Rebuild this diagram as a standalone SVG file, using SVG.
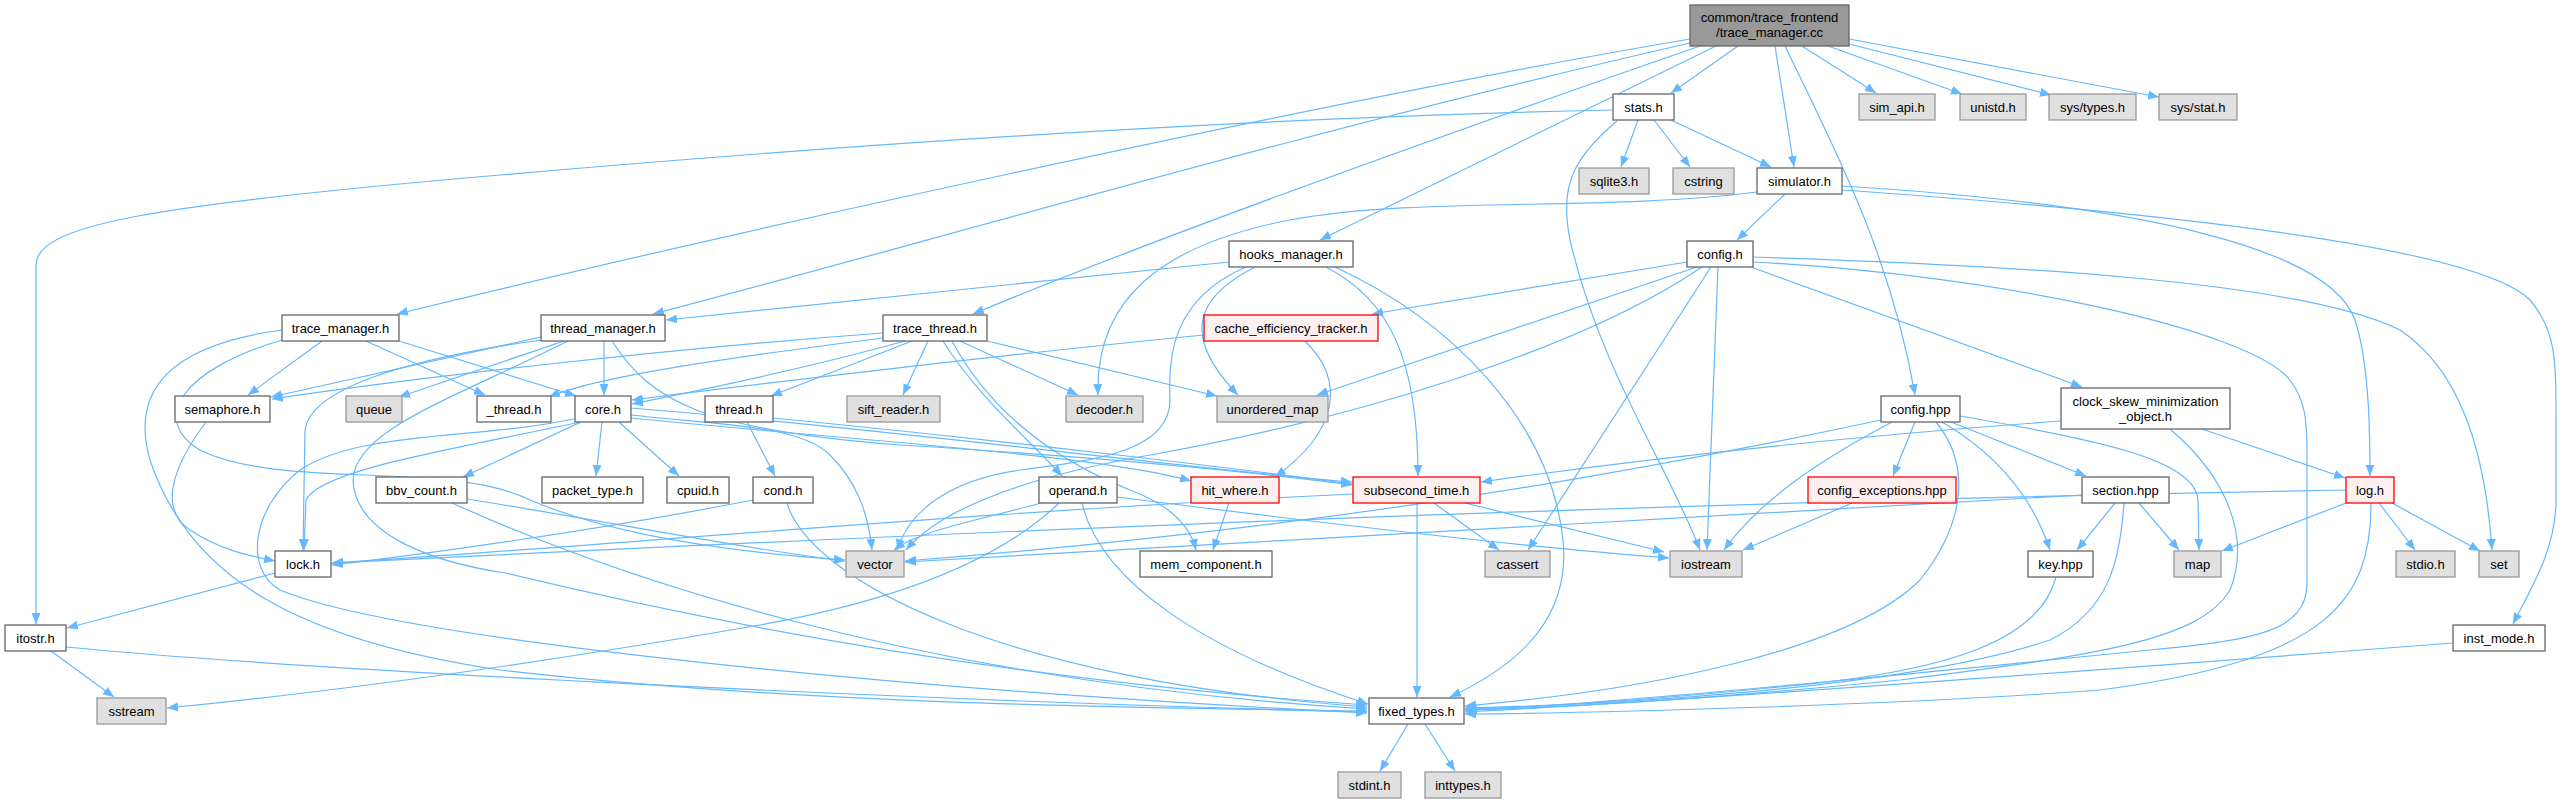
<svg xmlns="http://www.w3.org/2000/svg" width="2562" height="803" viewBox="0 0 2562 803">
<style>
.n rect{fill:#ffffff;stroke:#666666;stroke-width:1.3}
.x rect{fill:#e0e0e0;stroke:#999999;stroke-width:1.3}
.r rect{fill:#fff0f0;stroke:#ff0000;stroke-width:1.3}
.m rect{fill:#999999;stroke:#666666;stroke-width:1.3}
text{font-family:"Liberation Sans",Arial,sans-serif;font-size:13px;fill:#000000;text-anchor:middle}
#edges path{fill:none;stroke:#63b8ff;stroke-width:1.2;marker-end:url(#ah)}
</style>
<defs>
<marker id="ah" markerUnits="userSpaceOnUse" markerWidth="12" markerHeight="10" refX="11" refY="4.5" orient="auto"><path d="M0,0 L11,4.5 L0,9 z" fill="#63b8ff" stroke="none"/></marker>
</defs>
<rect width="2562" height="803" fill="#ffffff"/>
<g id="edges">
<path d="M1690,39 C1300,105 700,240 397,314"/>
<path d="M1690,43 C1300,132 900,250 653,314"/>
<path d="M1700,46 C1400,150 1150,240 973,314"/>
<path d="M1716,46 L1320,240"/>
<path d="M1738,46 L1671,93"/>
<path d="M1775,46 L1794,167"/>
<path d="M1785,46 C1830,140 1890,250 1915,395"/>
<path d="M1802,46 L1876,93"/>
<path d="M1828,46 L1962,94"/>
<path d="M1849,44 L2051,95"/>
<path d="M1849,39 L2159,97"/>
<path d="M1613,110 C1300,116 900,140 500,175 C150,205 36,225 36,265 L36,624"/>
<path d="M1638,120 L1621,167"/>
<path d="M1654,120 L1690,167"/>
<path d="M1671,120 L1771,167"/>
<path d="M1617,121 C1570,160 1560,190 1570,240 C1600,370 1670,470 1700,550"/>
<path d="M1785,194 L1737,240"/>
<path d="M1757,192 C1600,212 1420,196 1290,220 C1160,245 1095,300 1098,395"/>
<path d="M1842,186 C2150,205 2330,250 2355,320 C2368,360 2370,420 2370,476"/>
<path d="M1842,190 C2200,215 2480,250 2530,300 C2556,330 2556,360 2556,420 L2556,500 C2556,550 2530,590 2513,624"/>
<path d="M1229,262 L666,320"/>
<path d="M1255,267 C1190,300 1185,340 1238,395"/>
<path d="M1246,267 C1170,300 1168,360 1170,400 C1170,450 1100,460 1020,470 C950,480 910,510 897,550"/>
<path d="M1326,267 C1390,300 1418,360 1418,476"/>
<path d="M1335,267 C1450,320 1550,420 1563,540 C1570,610 1530,660 1450,697"/>
<path d="M1687,262 L1372,314"/>
<path d="M1697,267 L1317,395"/>
<path d="M1702,267 C1580,350 1350,420 1150,455 C1020,478 940,510 906,550"/>
<path d="M1711,267 L1528,550"/>
<path d="M1718,267 L1707,550"/>
<path d="M1751,267 L2082,387"/>
<path d="M1753,262 C2000,275 2250,330 2290,380 C2305,400 2307,420 2307,450 L2307,585 C2305,630 2260,640 2150,650 C1900,675 1600,705 1466,710"/>
<path d="M1753,257 C2000,265 2300,280 2400,330 C2460,370 2485,450 2492,550"/>
<path d="M322,341 L248,395"/>
<path d="M366,341 L485,395"/>
<path d="M399,341 L576,396"/>
<path d="M282,330 C170,345 130,390 150,460 C190,580 300,640 500,670 C800,705 1150,708 1367,711"/>
<path d="M282,340 C180,370 150,420 200,450 C280,490 450,460 530,500 C600,530 700,550 845,560"/>
<path d="M541,337 L271,397"/>
<path d="M564,341 L399,397"/>
<path d="M604,341 L604,395"/>
<path d="M541,340 C400,360 310,390 305,430 L303,550"/>
<path d="M568,341 C450,400 355,430 353,480 C355,530 420,560 505,573 C700,620 1000,680 1367,705"/>
<path d="M612,341 C650,400 700,430 900,445 C1150,460 1300,478 1352,485"/>
<path d="M883,333 C650,350 400,380 272,399"/>
<path d="M883,338 C750,355 600,375 549,397"/>
<path d="M905,341 C800,370 700,390 632,404"/>
<path d="M912,341 L771,396"/>
<path d="M928,341 L903,395"/>
<path d="M960,341 L1078,395"/>
<path d="M987,341 L1217,396"/>
<path d="M943,341 C980,400 1030,440 1062,476"/>
<path d="M952,341 C1000,430 1080,470 1130,490 C1170,505 1190,525 1196,550"/>
<path d="M581,422 L463,477"/>
<path d="M602,422 L596,476"/>
<path d="M619,422 L679,476"/>
<path d="M580,422 C450,450 320,470 306,500 L304,550"/>
<path d="M578,418 C480,440 360,430 300,470 C250,510 245,570 280,590 C400,640 900,690 1367,713"/>
<path d="M631,415 C720,425 800,425 830,455 C855,480 868,510 872,550"/>
<path d="M631,408 C900,430 1200,470 1352,482"/>
<path d="M631,418 C850,440 1100,455 1191,481"/>
<path d="M467,499 C600,520 750,550 845,561"/>
<path d="M452,503 C600,570 900,680 1367,709"/>
<path d="M753,500 C600,530 420,555 332,565"/>
<path d="M787,503 C810,580 1000,680 1367,707"/>
<path d="M747,422 L775,476"/>
<path d="M773,418 C1000,440 1250,470 1352,484"/>
<path d="M1041,503 C980,520 920,530 894,550"/>
<path d="M1059,503 C1000,560 900,600 760,625 C500,670 300,695 167,708"/>
<path d="M1082,503 C1100,580 1200,650 1368,704"/>
<path d="M1117,497 C1300,520 1500,545 1669,558"/>
<path d="M1229,503 L1213,550"/>
<path d="M1417,503 L1417,697"/>
<path d="M1434,503 L1499,550"/>
<path d="M1465,503 L1664,552"/>
<path d="M1353,494 C1000,510 550,550 332,563"/>
<path d="M1204,335 C1000,355 750,385 632,400"/>
<path d="M1305,341 C1345,380 1340,430 1275,477"/>
<path d="M2061,421 C1800,440 1600,465 1481,482"/>
<path d="M2202,429 L2345,478"/>
<path d="M2170,429 C2230,480 2250,540 2230,590 C2200,640 2100,655 1900,680 C1700,700 1550,708 1465,710"/>
<path d="M1915,422 L1893,476"/>
<path d="M1892,422 C1820,460 1760,500 1724,550"/>
<path d="M1942,422 C1990,450 2030,490 2050,550"/>
<path d="M1951,422 L2086,476"/>
<path d="M1960,416 C2100,440 2195,460 2198,500 L2199,550"/>
<path d="M1936,422 C1975,470 1960,530 1920,580 C1850,650 1650,690 1465,706"/>
<path d="M1881,420 C1600,480 1300,530 905,561"/>
<path d="M1852,503 L1743,550"/>
<path d="M2115,503 L2077,550"/>
<path d="M2139,503 L2179,550"/>
<path d="M2124,503 C2120,560 2110,610 2050,640 C1900,690 1600,705 1465,708"/>
<path d="M2082,495 C1800,510 1300,540 905,562"/>
<path d="M2056,577 C2040,640 1950,670 1800,685 C1650,700 1550,707 1465,709"/>
<path d="M2346,490 C1500,505 700,545 332,563"/>
<path d="M2346,503 L2222,551"/>
<path d="M2379,503 L2415,550"/>
<path d="M2392,503 L2480,551"/>
<path d="M2371,503 C2371,600 2330,660 2100,690 C1900,705 1600,713 1465,714"/>
<path d="M206,422 C170,470 160,510 190,530 C220,550 250,556 275,561"/>
<path d="M275,573 L67,628"/>
<path d="M51,651 L114,697"/>
<path d="M66,647 C300,670 900,700 1367,712"/>
<path d="M1408,724 L1380,771"/>
<path d="M1425,724 L1455,771"/>
<path d="M2453,643 C2100,670 1700,700 1465,712"/>
</g>
<g id="n_main" class="m"><rect x="1690" y="5" width="159" height="41"/><text x="1769.5" y="22">common/trace_frontend</text><text x="1769.5" y="37">/trace_manager.cc</text></g>
<g id="n_stats" class="n"><rect x="1613" y="94" width="61" height="26"/><text x="1643.5" y="111.5">stats.h</text></g>
<g id="n_sim_api" class="x"><rect x="1859" y="94" width="76" height="26"/><text x="1897" y="111.5">sim_api.h</text></g>
<g id="n_unistd" class="x"><rect x="1960" y="94" width="66" height="26"/><text x="1993" y="111.5">unistd.h</text></g>
<g id="n_systypes" class="x"><rect x="2049" y="94" width="87" height="26"/><text x="2092.5" y="111.5">sys/types.h</text></g>
<g id="n_sysstat" class="x"><rect x="2159" y="94" width="78" height="26"/><text x="2198" y="111.5">sys/stat.h</text></g>
<g id="n_sqlite3" class="x"><rect x="1579" y="168" width="70" height="26"/><text x="1614" y="185.5">sqlite3.h</text></g>
<g id="n_cstring" class="x"><rect x="1673" y="168" width="61" height="26"/><text x="1703.5" y="185.5">cstring</text></g>
<g id="n_simulator" class="n"><rect x="1757" y="168" width="85" height="26"/><text x="1799.5" y="185.5">simulator.h</text></g>
<g id="n_hooks" class="n"><rect x="1229" y="241" width="124" height="26"/><text x="1291" y="258.5">hooks_manager.h</text></g>
<g id="n_config_h" class="n"><rect x="1687" y="241" width="66" height="26"/><text x="1720" y="258.5">config.h</text></g>
<g id="n_trace_manager_h" class="n"><rect x="282" y="315" width="117" height="26"/><text x="340.5" y="332.5">trace_manager.h</text></g>
<g id="n_thread_manager" class="n"><rect x="541" y="315" width="124" height="26"/><text x="603" y="332.5">thread_manager.h</text></g>
<g id="n_trace_thread" class="n"><rect x="883" y="315" width="104" height="26"/><text x="935" y="332.5">trace_thread.h</text></g>
<g id="n_cache_eff" class="r"><rect x="1204" y="315" width="174" height="26"/><text x="1291" y="332.5">cache_efficiency_tracker.h</text></g>
<g id="n_semaphore" class="n"><rect x="175" y="396" width="95" height="26"/><text x="222.5" y="413.5">semaphore.h</text></g>
<g id="n_queue" class="x"><rect x="346" y="396" width="56" height="26"/><text x="374" y="413.5">queue</text></g>
<g id="n__thread" class="n"><rect x="477" y="396" width="74" height="26"/><text x="514" y="413.5">_thread.h</text></g>
<g id="n_core" class="n"><rect x="575" y="396" width="56" height="26"/><text x="603" y="413.5">core.h</text></g>
<g id="n_thread" class="n"><rect x="705" y="396" width="68" height="26"/><text x="739" y="413.5">thread.h</text></g>
<g id="n_sift_reader" class="x"><rect x="847" y="396" width="93" height="26"/><text x="893.5" y="413.5">sift_reader.h</text></g>
<g id="n_decoder" class="x"><rect x="1066" y="396" width="77" height="26"/><text x="1104.5" y="413.5">decoder.h</text></g>
<g id="n_unordered_map" class="x"><rect x="1217" y="396" width="111" height="26"/><text x="1272.5" y="413.5">unordered_map</text></g>
<g id="n_config_hpp" class="n"><rect x="1881" y="396" width="79" height="26"/><text x="1920.5" y="413.5">config.hpp</text></g>
<g id="n_clock_skew" class="n"><rect x="2061" y="388" width="169" height="41"/><text x="2145.5" y="406">clock_skew_minimization</text><text x="2145.5" y="421">_object.h</text></g>
<g id="n_bbv_count" class="n"><rect x="376" y="477" width="91" height="26"/><text x="421.5" y="494.5">bbv_count.h</text></g>
<g id="n_packet_type" class="n"><rect x="542" y="477" width="101" height="26"/><text x="592.5" y="494.5">packet_type.h</text></g>
<g id="n_cpuid" class="n"><rect x="667" y="477" width="62" height="26"/><text x="698" y="494.5">cpuid.h</text></g>
<g id="n_cond" class="n"><rect x="753" y="477" width="60" height="26"/><text x="783" y="494.5">cond.h</text></g>
<g id="n_operand" class="n"><rect x="1039" y="477" width="78" height="26"/><text x="1078" y="494.5">operand.h</text></g>
<g id="n_hit_where" class="r"><rect x="1191" y="477" width="88" height="26"/><text x="1235" y="494.5">hit_where.h</text></g>
<g id="n_subsecond" class="r"><rect x="1353" y="477" width="127" height="26"/><text x="1416.5" y="494.5">subsecond_time.h</text></g>
<g id="n_config_exc" class="r"><rect x="1808" y="477" width="148" height="26"/><text x="1882" y="494.5">config_exceptions.hpp</text></g>
<g id="n_section" class="n"><rect x="2082" y="477" width="87" height="26"/><text x="2125.5" y="494.5">section.hpp</text></g>
<g id="n_log" class="r"><rect x="2346" y="477" width="48" height="26"/><text x="2370" y="494.5">log.h</text></g>
<g id="n_lock" class="n"><rect x="275" y="551" width="56" height="26"/><text x="303" y="568.5">lock.h</text></g>
<g id="n_vector" class="x"><rect x="846" y="551" width="58" height="26"/><text x="875" y="568.5">vector</text></g>
<g id="n_mem_component" class="n"><rect x="1140" y="551" width="132" height="26"/><text x="1206" y="568.5">mem_component.h</text></g>
<g id="n_cassert" class="x"><rect x="1485" y="551" width="65" height="26"/><text x="1517.5" y="568.5">cassert</text></g>
<g id="n_iostream" class="x"><rect x="1670" y="551" width="72" height="26"/><text x="1706" y="568.5">iostream</text></g>
<g id="n_key" class="n"><rect x="2028" y="551" width="65" height="26"/><text x="2060.5" y="568.5">key.hpp</text></g>
<g id="n_map" class="x"><rect x="2174" y="551" width="47" height="26"/><text x="2197.5" y="568.5">map</text></g>
<g id="n_stdio" class="x"><rect x="2396" y="551" width="59" height="26"/><text x="2425.5" y="568.5">stdio.h</text></g>
<g id="n_set" class="x"><rect x="2479" y="551" width="40" height="26"/><text x="2499" y="568.5">set</text></g>
<g id="n_itostr" class="n"><rect x="5" y="625" width="61" height="26"/><text x="35.5" y="642.5">itostr.h</text></g>
<g id="n_inst_mode" class="n"><rect x="2453" y="625" width="92" height="26"/><text x="2499" y="642.5">inst_mode.h</text></g>
<g id="n_sstream" class="x"><rect x="97" y="698" width="69" height="26"/><text x="131.5" y="715.5">sstream</text></g>
<g id="n_fixed_types" class="n"><rect x="1369" y="698" width="95" height="26"/><text x="1416.5" y="715.5">fixed_types.h</text></g>
<g id="n_stdint" class="x"><rect x="1338" y="772" width="63" height="26"/><text x="1369.5" y="789.5">stdint.h</text></g>
<g id="n_inttypes" class="x"><rect x="1425" y="772" width="76" height="26"/><text x="1463" y="789.5">inttypes.h</text></g>
</svg>
